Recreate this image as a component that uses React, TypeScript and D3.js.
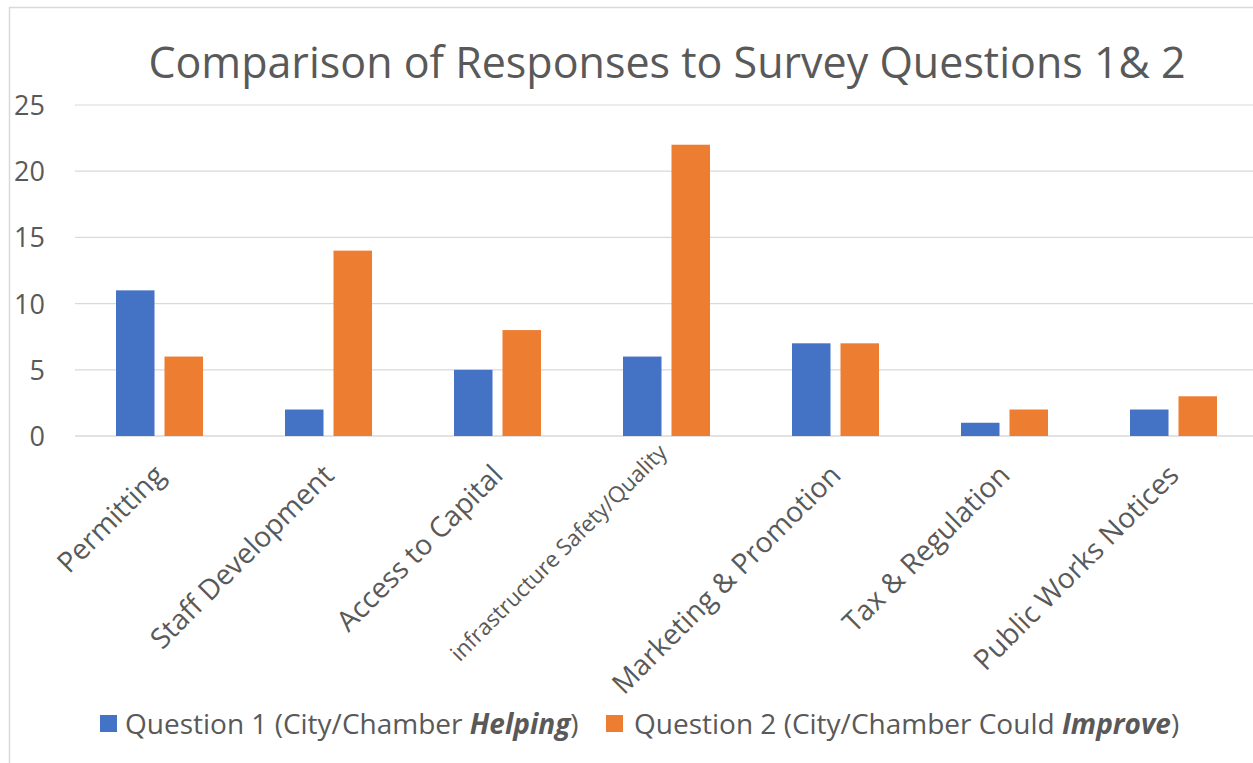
import React from "react";
import * as d3 from "d3";

const categories = [
  "Permitting",
  "Staff Development",
  "Access to Capital",
  "infrastructure Safety/Quality",
  "Marketing & Promotion",
  "Tax & Regulation",
  "Public Works Notices",
];
const seriesNames = ["q1", "q2"];
const q1Values = [11, 2, 5, 6, 7, 1, 2];
const q2Values = [6, 14, 8, 22, 7, 2, 3];
const yTicks = [0, 5, 10, 15, 20, 25];
const colors = ["#4472C4", "#ED7D31"];

const W = 1253;
const H = 763;
const FONT = "'Open Sans', sans-serif";
const TEXT = "#595959";

export default function App() {
  const x0 = d3.scaleBand<string>().domain(categories).range([75, 1258]);
  const x1 = d3
    .scaleBand<string>()
    .domain(seriesNames)
    .range([41, 128])
    .paddingInner(0.206);
  const y = d3.scaleLinear().domain([0, 25]).range([436, 105]);
  const values = [q1Values, q2Values];

  return (
    <svg
      width={W}
      height={H}
      style={{ position: "absolute", left: 0, top: 0, background: "#fff" }}
      fontFamily={FONT}
    >
      <rect x={0} y={0} width={W} height={H} fill="#fff" />
      {/* chart frame */}
      <line x1={9.5} x2={9.5} y1={7} y2={H} stroke="#d9d9d9" strokeWidth={1.5} />
      <line x1={9} x2={W} y1={7.5} y2={7.5} stroke="#d9d9d9" strokeWidth={1.5} />

      {/* title */}
      <text x={667} y={78} textAnchor="middle" fontSize={43} fill={TEXT}>
        Comparison of Responses to Survey Questions 1&amp; 2
      </text>

      {/* gridlines + y labels */}
      {yTicks.map((t) => (
        <g key={t}>
          <line
            x1={75}
            x2={W}
            y1={y(t)}
            y2={y(t)}
            stroke="#d9d9d9"
            strokeWidth={t === 0 ? 1.5 : 1.2}
          />
          <text
            x={45}
            y={y(t) + 10}
            textAnchor="end"
            fontSize={27}
            fill={TEXT}
          >
            {t}
          </text>
        </g>
      ))}

      {/* bars */}
      {categories.map((c, i) => (
        <g key={c} transform={`translate(${x0(c)},0)`}>
          {seriesNames.map((s, j) => (
            <rect
              key={s}
              x={x1(s)}
              width={x1.bandwidth()}
              y={y(values[j][i])}
              height={y(0) - y(values[j][i])}
              fill={colors[j]}
            />
          ))}
        </g>
      ))}

      {/* x labels */}
      {categories.map((c, i) => {
        const cx = (x0(c) as number) + x0.bandwidth() / 2;
        const small = i === 3;
        return (
          <text
            key={c}
            transform={`translate(${cx - (small ? 10 : 8)},${small ? 442 : 462}) rotate(-45)`}
            textAnchor="end"
            dy="0.75em"
            fontSize={small ? 22.3 : 28.3}
            fill={TEXT}
          >
            {c}
          </text>
        );
      })}

      {/* legend */}
      <rect x={100} y={715} width={17} height={17} fill={colors[0]} />
      <text x={125} y={734} fontSize={28} fill={TEXT}>
        Question 1 (City/Chamber{" "}
        <tspan fontWeight="bold" fontStyle="italic">
          Helping
        </tspan>
        )
      </text>
      <rect x={606} y={715} width={17} height={17} fill={colors[1]} />
      <text x={634} y={734} fontSize={28} fill={TEXT}>
        Question 2 (City/Chamber Could{" "}
        <tspan fontWeight="bold" fontStyle="italic">
          Improve
        </tspan>
        )
      </text>
    </svg>
  );
}
